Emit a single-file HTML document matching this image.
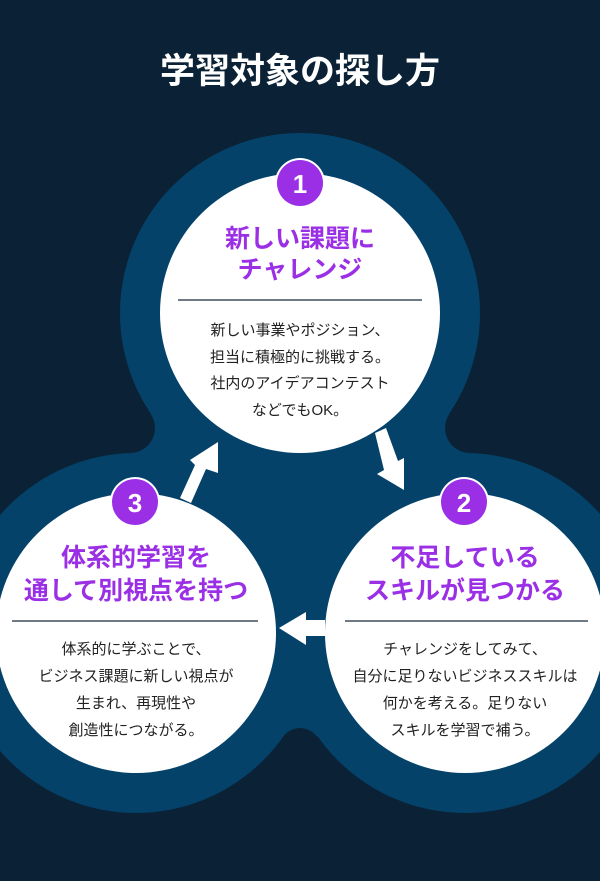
<!DOCTYPE html>
<html><head><meta charset="utf-8"><style>
body{margin:0;background:#0b2236;}
svg{display:block}
text{font-family:"Liberation Sans","Noto Sans CJK JP",sans-serif;}
</style></head><body>
<svg width="600" height="881" viewBox="0 0 600 881" xmlns="http://www.w3.org/2000/svg">
<rect width="600" height="881" fill="#0b2236"/>
<text x="300" y="83" text-anchor="middle" font-size="35" font-weight="bold" fill="#fff">学習対象の探し方</text>
<polygon points="300,313 130,428 136,633 300,749 465,633 470,428" fill="#04426a"/>
<circle cx="130" cy="428" r="25" fill="#0b2236"/>
<circle cx="470" cy="428" r="25" fill="#0b2236"/>
<circle cx="300" cy="749" r="21" fill="#0b2236"/>
<circle cx="300" cy="313" r="180" fill="#04426a"/>
<circle cx="136" cy="633" r="180" fill="#04426a"/>
<circle cx="465" cy="633" r="180" fill="#04426a"/>
<circle cx="300" cy="313" r="140" fill="#fff"/>
<circle cx="136" cy="633" r="140" fill="#fff"/>
<circle cx="465" cy="633" r="140" fill="#fff"/>
<g fill="#fff">
<polygon points="375,433 386,428 398,461 404,458 404,490 377,474 384,470"/>
<polygon points="180,498 191,503 206,469 218,473 218,442 190,460 195,465"/>
<polygon points="325,620 306,620 306,612 279,628 306,645 306,636 325,636"/>
</g>
<g font-size="26" font-weight="bold" fill="#fff" text-anchor="middle">
<circle cx="300" cy="183" r="25" fill="#fff"/><circle cx="300" cy="183" r="23" fill="#9b2fe6"/><text x="300" y="193">1</text>
<circle cx="135" cy="502" r="25" fill="#fff"/><circle cx="135" cy="502" r="23" fill="#9b2fe6"/><text x="135" y="512">3</text>
<circle cx="464" cy="502" r="25" fill="#fff"/><circle cx="464" cy="502" r="23" fill="#9b2fe6"/><text x="464" y="512">2</text>
</g>
<g font-size="25" font-weight="bold" fill="#9b2fe6" text-anchor="middle">
<text x="300" y="247">新しい課題に</text>
<text x="300" y="278">チャレンジ</text>
<text x="136" y="566">体系的学習を</text>
<text x="136" y="599">通して別視点を持つ</text>
<text x="465" y="566">不足している</text>
<text x="465" y="599">スキルが見つかる</text>
</g>
<g stroke="#1a2a3a" stroke-width="1.2">
<line x1="178" y1="300" x2="422" y2="300"/>
<line x1="12" y1="621" x2="258" y2="621"/>
<line x1="345" y1="621" x2="588" y2="621"/>
</g>
<g font-size="15" fill="#222" text-anchor="middle">
<text x="300" y="335">新しい事業やポジション、</text>
<text x="300" y="362">担当に積極的に挑戦する。</text>
<text x="300" y="388">社内のアイデアコンテスト</text>
<text x="300" y="415">などでもOK。</text>
<text x="136" y="654">体系的に学ぶことで、</text>
<text x="136" y="681">ビジネス課題に新しい視点が</text>
<text x="136" y="708">生まれ、再現性や</text>
<text x="136" y="735">創造性につながる。</text>
<text x="465" y="654">チャレンジをしてみて、</text>
<text x="465" y="681">自分に足りないビジネススキルは</text>
<text x="465" y="708">何かを考える。足りない</text>
<text x="465" y="735">スキルを学習で補う。</text>
</g>
</svg>
</body></html>
